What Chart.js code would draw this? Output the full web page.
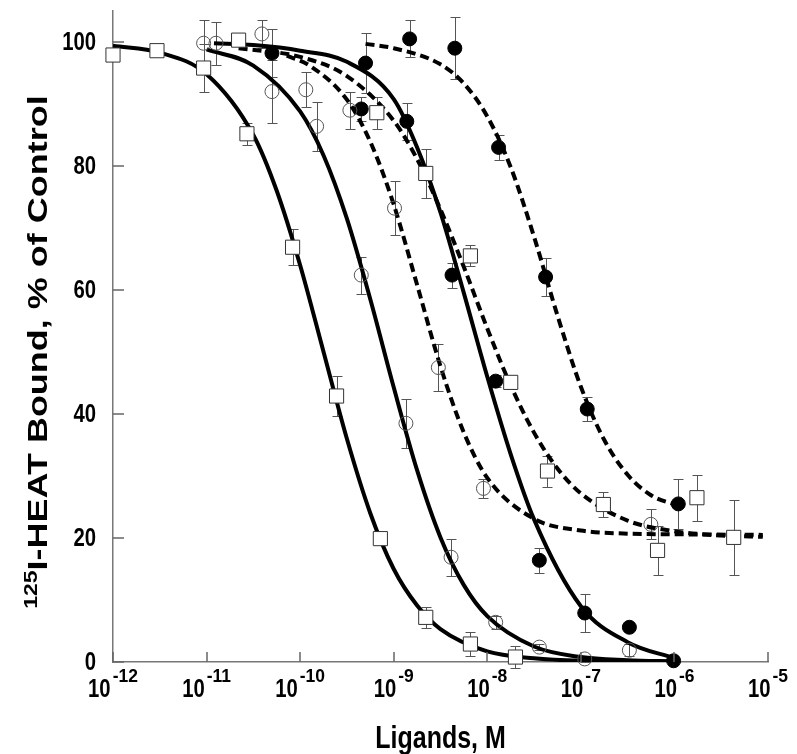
<!DOCTYPE html>
<html>
<head>
<meta charset="utf-8">
<script src="https://cdn.jsdelivr.net/npm/chart.js@4.4.1/dist/chart.umd.min.js"></script>
<style>
html,body{margin:0;padding:0;background:#fff;}
canvas{display:block;}
</style>
</head>
<body>
<canvas id="c" width="797" height="754"></canvas>
<script>
// ---------- tick labels ----------
const xTickExponents = [-12, -11, -10, -9, -8, -7, -6, -5];
const yTicks = [0, 20, 40, 60, 80, 100];
const xTitle = "Ligands, M";
const yTitleSup = "125";
const yTitleMain = "I-HEAT Bound, % of Control";

// ---------- measured points (concentration M, % of control, error) ----------
// solid curve, open squares
const concA = [1.0e-12, 2.95e-12, 9.3e-12, 2.7e-11, 8.3e-11, 2.45e-10, 7.2e-10, 2.2e-9, 6.6e-9, 2.0e-8];
const valA  = [97.9, 98.6, 95.8, 85.2, 66.9, 42.9, 19.9, 7.2, 2.9, 0.8];
const errA  = [0, 0, 3.8, 1.8, 2.9, 3.2, 0.8, 1.7, 2.0, 1.8];
// solid curve, open circles
const concB = [9.3e-12, 3.9e-11, 5.0e-11, 1.15e-10, 1.5e-10, 4.5e-10, 1.35e-9, 4.1e-9, 1.23e-8, 3.6e-8, 1.1e-7, 3.3e-7];
const valB  = [99.8, 101.3, 92.0, 92.3, 86.4, 62.4, 38.5, 16.9, 6.4, 2.4, 0.5, 1.9];
const errB  = [3.7, 2.3, 5.1, 2.8, 4.0, 3.0, 4.0, 3.0, 1.0, 0.5, 0.5, 1.0];
// solid curve, filled circles
const concC = [5.0e-11, 4.5e-10, 1.38e-9, 4.2e-9, 1.23e-8, 3.6e-8, 1.1e-7, 3.3e-7, 9.8e-7];
const valC  = [98.2, 89.2, 87.2, 62.4, 45.3, 16.4, 7.9, 5.6, 0.2];
const errC  = [3.9, 2.0, 3.0, 2.0, 1.0, 2.0, 3.0, 0, 0];
// dashed curve, open circles
const concD = [1.26e-11, 3.4e-10, 1.02e-9, 3.0e-9, 9.1e-9, 5.6e-7];
const valD  = [99.8, 89.0, 73.2, 47.5, 28.0, 22.2];
const errD  = [3.5, 3.0, 4.3, 3.8, 1.5, 2.4];
// dashed curve, open squares
const concE = [2.2e-11, 6.6e-10, 2.2e-9, 6.6e-9, 1.78e-8, 4.4e-8, 1.74e-7, 6.6e-7, 1.74e-6, 4.3e-6];
const valE  = [100.3, 88.6, 78.8, 65.5, 45.1, 30.8, 25.4, 18.0, 26.5, 20.1];
const errE  = [1.0, 2.6, 4.0, 1.7, 1.0, 2.5, 2.0, 3.9, 3.7, 6.0];
// dashed curve, filled circles
const concF = [5.0e-10, 1.48e-9, 4.5e-9, 1.32e-8, 4.2e-8, 1.17e-7, 1.1e-6];
const valF  = [96.6, 100.5, 99.0, 83.0, 62.1, 40.8, 25.5];
const errF  = [4.8, 3.0, 5.0, 2.0, 3.0, 2.0, 4.0];

// ---------- fitted curves ----------
const curveAConc = [1e-12, 3.16e-12, 1e-11, 3.16e-11, 5.62e-11, 1e-10, 1.78e-10, 3.16e-10, 5.62e-10, 1e-9, 1.78e-9, 3.16e-9, 1e-8, 3.16e-8, 1e-7, 1e-6];
const curveAVal  = [99.4, 98.3, 94.8, 85.0, 76.0, 64.0, 50.0, 36.0, 24.0, 15.0, 9.1, 5.3, 1.7, 0.6, 0.2, 0.05];
const curveBConc = [1e-11, 3.16e-11, 1e-10, 1.78e-10, 3.16e-10, 5.62e-10, 1e-9, 1.78e-9, 3.16e-9, 5.62e-9, 1e-8, 3.16e-8, 1e-7, 3.16e-7, 1e-6];
const curveBVal  = [98.8, 96.2, 88.8, 81.7, 71.5, 58.5, 44.3, 30.9, 20.1, 12.4, 7.4, 2.5, 0.8, 0.3, 0.1];
const curveCConc = [1.2e-11, 3.16e-11, 1e-10, 3.16e-10, 1e-9, 1.78e-9, 3.16e-9, 5.62e-9, 1e-8, 1.78e-8, 3.16e-8, 1e-7, 3.16e-7, 1e-6];
const curveCVal  = [99.8, 99.5, 98.6, 96.8, 90.8, 83.0, 72.5, 59.5, 46.0, 33.5, 23.0, 9.0, 3.2, 0.6];
const curveDConc = [7.2e-11, 1.26e-10, 3.16e-10, 5.62e-10, 1e-9, 1.78e-9, 3.16e-9, 5.62e-9, 1e-8, 3.16e-8, 1e-7, 3.16e-7, 1e-6, 8.8e-6];
const curveDVal  = [97.8, 96.2, 90.7, 83.9, 73.8, 60.8, 47.7, 37.0, 29.7, 23.1, 21.2, 20.7, 20.6, 20.5];
const curveEConc = [2.2e-11, 1e-10, 3.16e-10, 1e-9, 1.78e-9, 3.16e-9, 5.62e-9, 1e-8, 1.78e-8, 3.16e-8, 5.62e-8, 1e-7, 3.16e-7, 1e-6, 3.16e-6, 8.8e-6];
const curveEVal  = [99.0, 97.6, 94.5, 87.3, 81.1, 73.0, 63.7, 53.8, 44.6, 37.0, 31.2, 27.2, 22.8, 21.1, 20.4, 20.2];
const curveFConc = [5.0e-10, 1e-9, 3.16e-9, 5.62e-9, 1e-8, 1.78e-8, 3.16e-8, 5.62e-8, 1e-7, 1.78e-7, 3.16e-7, 5.62e-7, 1.1e-6];
const curveFVal  = [99.7, 99.0, 96.4, 93.3, 88.0, 79.8, 68.6, 55.9, 44.4, 35.8, 30.2, 26.9, 25.2];

// ---------- build datasets ----------
const pts = (xs, ys) => xs.map((x, i) => ({ x: x, y: ys[i] }));

const squareStyle = { pointStyle: 'rect', pointRadius: 10, pointBackgroundColor: '#ffffff', pointBorderColor: '#333333', pointBorderWidth: 1 };
const openCircleStyle = { pointStyle: 'circle', pointRadius: 7, pointBackgroundColor: 'rgba(255,255,255,0)', pointBorderColor: '#555555', pointBorderWidth: 1 };
const filledCircleStyle = { pointStyle: 'circle', pointRadius: 7, pointBackgroundColor: '#000000', pointBorderColor: '#000000', pointBorderWidth: 1 };

function markers(xs, ys, errs, style) {
  return Object.assign({ data: pts(xs, ys), errors: errs, showLine: false, order: 1, clip: false,
    pointHoverRadius: style.pointRadius }, style);
}
function curve(xs, ys, dashed) {
  return { data: pts(xs, ys), showLine: true, pointRadius: 0, pointHoverRadius: 0, borderColor: '#000000',
    borderWidth: 4, borderDash: dashed ? [9, 5] : [], cubicInterpolationMode: 'monotone', order: 2, fill: false };
}

const datasets = [
  curve(curveAConc, curveAVal, false),
  curve(curveBConc, curveBVal, false),
  curve(curveCConc, curveCVal, false),
  curve(curveDConc, curveDVal, true),
  curve(curveEConc, curveEVal, true),
  curve(curveFConc, curveFVal, true),
  markers(concA, valA, errA, squareStyle),
  markers(concE, valE, errE, squareStyle),
  markers(concB, valB, errB, openCircleStyle),
  markers(concD, valD, errD, openCircleStyle),
  markers(concC, valC, errC, filledCircleStyle),
  markers(concF, valF, errF, filledCircleStyle)
];

// ---------- plugins ----------
const FONT = "'Liberation Sans', Arial, Helvetica, sans-serif";

const errorBarPlugin = {
  id: 'errbars',
  beforeDatasetsDraw(chart) {
    const ctx = chart.ctx, xs = chart.scales.x, ys = chart.scales.y;
    ctx.save();
    ctx.strokeStyle = '#555555';
    ctx.lineWidth = 1;
    chart.data.datasets.forEach(ds => {
      if (!ds.errors) return;
      ds.data.forEach((p, i) => {
        const e = ds.errors[i];
        if (!e) return;
        const px = Math.round(xs.getPixelForValue(p.x)) + 0.5;
        const y1 = Math.round(ys.getPixelForValue(p.y + e)) + 0.5;
        const y2 = Math.round(ys.getPixelForValue(p.y - e)) + 0.5;
        ctx.beginPath();
        ctx.moveTo(px, y1); ctx.lineTo(px, y2);
        ctx.moveTo(px - 5, y1); ctx.lineTo(px + 5, y1);
        ctx.moveTo(px - 5, y2); ctx.lineTo(px + 5, y2);
        ctx.stroke();
      });
    });
    ctx.restore();
  }
};

function squeezedText(ctx, text, x, y, font, sx, align, baseline) {
  ctx.save();
  ctx.font = font;
  ctx.translate(x, y);
  ctx.scale(sx, 1);
  ctx.textAlign = align;
  ctx.textBaseline = baseline || 'alphabetic';
  ctx.fillText(text, 0, 0);
  ctx.restore();
}

const axesPlugin = {
  id: 'axesText',
  afterDraw(chart) {
    const ctx = chart.ctx, xs = chart.scales.x, ys = chart.scales.y, area = chart.chartArea;
    ctx.save();
    // inward tick marks
    ctx.strokeStyle = '#666666';
    ctx.lineWidth = 1.5;
    ctx.beginPath();
    yTicks.forEach(v => {
      const py = Math.round(ys.getPixelForValue(v));
      ctx.moveTo(area.left, py); ctx.lineTo(area.left + 11, py);
    });
    xTickExponents.forEach(e => {
      const px = Math.round(xs.getPixelForValue(Math.pow(10, e)));
      ctx.moveTo(px, area.bottom); ctx.lineTo(px, area.bottom - 10);
    });
    ctx.stroke();

    ctx.fillStyle = '#000000';
    const SXL = 0.78;
    // y tick labels
    yTicks.forEach(v => {
      const py = ys.getPixelForValue(v);
      squeezedText(ctx, String(v), 96, py + 1, "bold 26px " + FONT, SXL, 'right', 'middle');
    });
    // x tick labels: 10 with superscript exponent
    const baseFont = "bold 26px " + FONT, supFont = "bold 19px " + FONT;
    const SXS = 0.92;
    xTickExponents.forEach(e => {
      const px = xs.getPixelForValue(Math.pow(10, e));
      ctx.font = baseFont; const w1 = ctx.measureText('10').width * SXL;
      const sup = String(e);
      ctx.font = supFont; const w2 = ctx.measureText(sup).width * SXS;
      const gap = 2;
      const start = px - (w1 + gap + w2) / 2;
      squeezedText(ctx, '10', start, 697, baseFont, SXL, 'left');
      squeezedText(ctx, sup, start + w1 + gap, 682, supFont, SXS, 'left');
    });
    // x title
    squeezedText(ctx, xTitle, (area.left + area.right) / 2, 748, "bold 32px " + FONT, SXL, 'center');
    // y title (rotated)
    const tFont = "bold 36px " + FONT, sFont = "bold 23px " + FONT;
    ctx.font = tFont; const wm = ctx.measureText(yTitleMain).width;
    ctx.font = sFont; const ws = ctx.measureText(yTitleSup).width;
    const total = wm + ws;
    const cy = 352;
    ctx.save();
    ctx.translate(47, cy);
    ctx.scale(SXL, 1);
    ctx.rotate(-Math.PI / 2);
    ctx.textAlign = 'left';
    ctx.textBaseline = 'alphabetic';
    ctx.font = sFont;
    ctx.fillText(yTitleSup, -total / 2, -13);
    ctx.font = tFont;
    ctx.fillText(yTitleMain, -total / 2 + ws, 0);
    ctx.restore();
    ctx.restore();
  }
};

new Chart(document.getElementById('c').getContext('2d'), {
  type: 'scatter',
  data: { datasets: datasets },
  options: {
    responsive: false,
    animation: false,
    events: [],
    layout: { padding: { top: 7, right: 29, left: 0, bottom: 0 } },
    plugins: { legend: { display: false }, tooltip: { enabled: false }, title: { display: false } },
    scales: {
      x: {
        type: 'logarithmic', min: 1e-12, max: 1e-5,
        grid: { display: false, drawTicks: false },
        border: { display: true, color: '#777777', width: 1.5 },
        ticks: { display: false },
        afterFit(s) { s.height = 92; }
      },
      y: {
        type: 'linear', min: 0, max: 105,
        grid: { display: false, drawTicks: false },
        border: { display: true, color: '#777777', width: 1.5 },
        ticks: { display: false, stepSize: 20 },
        afterFit(s) { s.width = 113; }
      }
    }
  },
  plugins: [errorBarPlugin, axesPlugin]
});
</script>
</body>
</html>
